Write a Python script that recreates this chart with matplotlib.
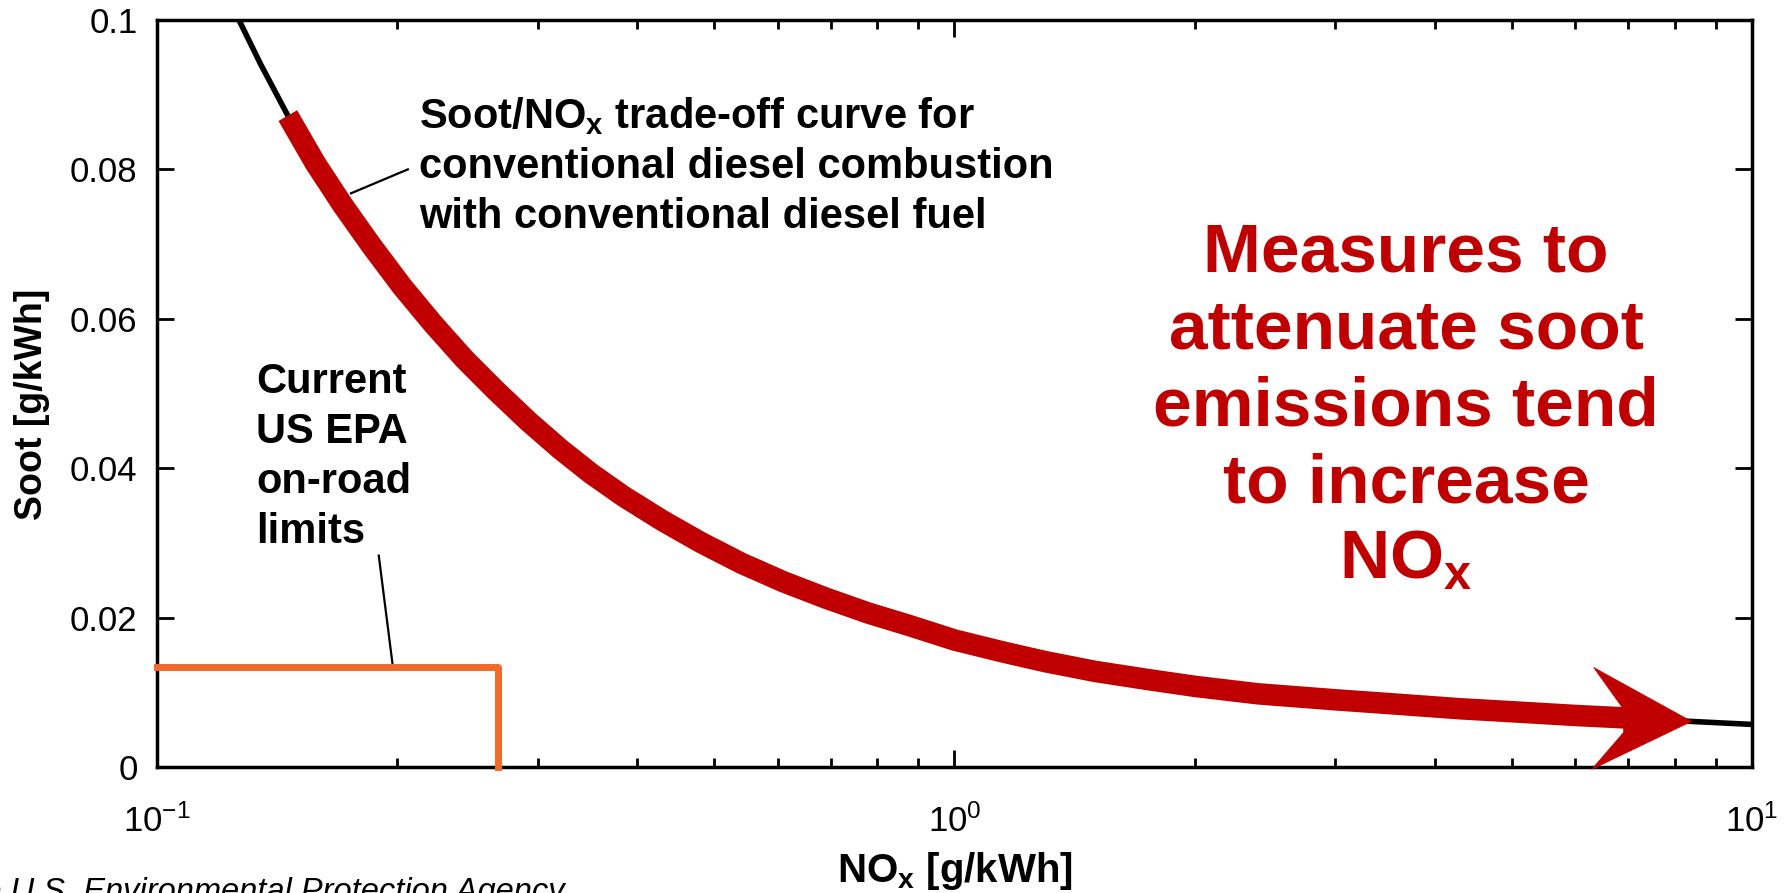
import matplotlib
matplotlib.use("Agg")
import matplotlib.pyplot as plt
import matplotlib.transforms as mtransforms
from matplotlib.patches import Polygon
from matplotlib.ticker import FixedLocator, FixedFormatter

# ---------------- data ----------------
nox = [0.1267, 0.135, 0.1459, 0.158, 0.171, 0.186, 0.203, 0.222, 0.243, 0.266,
       0.292, 0.32, 0.35, 0.385, 0.43, 0.48, 0.54, 0.61, 0.69, 0.78, 0.88,
       1.0, 1.15, 1.3, 1.5, 1.75, 2.0, 2.4, 3.0, 3.6, 4.3, 5.0, 6.0, 7.0,
       8.4, 10.0]
soot = [0.1000, 0.0940, 0.0872, 0.0808, 0.0752, 0.0697, 0.0643, 0.0593,
        0.0546, 0.0504, 0.0463, 0.0426, 0.0393, 0.0362, 0.0330, 0.0301,
        0.0273, 0.0248, 0.0226, 0.0206, 0.0189, 0.0170, 0.0154, 0.0141,
        0.0128, 0.0117, 0.0108, 0.0098, 0.0090, 0.0084, 0.0078, 0.0074,
        0.0069, 0.00655, 0.0061, 0.0057]
red_start = 0.1459          # start of the highlighted (red) part
red_end = 7.0               # end of red shaft (arrow head starts here)
arrow_tip = (8.4, 0.0061)   # tip of arrow head

epa_nox = [0.1, 0.268, 0.268]
epa_soot = [0.0134, 0.0134, 0.0]

yticks = [0, 0.02, 0.04, 0.06, 0.08, 0.1]
ytick_labels = ["0", "0.02", "0.04", "0.06", "0.08", "0.1"]

curve_label = ["Soot/NO$_\\mathdefault{x}$ trade-off curve for",
               "conventional diesel combustion",
               "with conventional diesel fuel"]
epa_label = ["Current", "US EPA", "on-road", "limits"]
red_label = ["Measures to", "attenuate soot", "emissions tend", "to increase",
             "NO$_\\mathdefault{x}$"]
source_text = "Courtesy of the U.S. Environmental Protection Agency"

# leader lines (data coords)
curve_leader = ([0.1751, 0.2063], [0.0768, 0.0800])
epa_leader = ([0.1897, 0.1976], [0.0283, 0.0134])

RED = "#C00000"
ORANGE = "#F26A2B"

# ---------------- figure ----------------
plt.rcParams['font.family'] = ['Liberation Sans', 'DejaVu Sans']
plt.rcParams['axes.unicode_minus'] = False
W, H = 1789, 893
fig = plt.figure(figsize=(W / 100, H / 100), dpi=100)
ax = fig.add_axes([157 / W, 1 - 767 / H, (1752 - 157) / W, (767 - 20) / H])

ax.set_xscale("log")
ax.set_xlim(0.1, 10)
ax.set_ylim(0, 0.1)

# black underlying curve
ax.plot(nox, soot, color="black", lw=4, solid_capstyle="butt",
        solid_joinstyle="round", zorder=3)
# red highlighted part
rx = [x for x in nox if red_start <= x <= red_end]
ry = [y for x, y in zip(nox, soot) if red_start <= x <= red_end]
ax.plot(rx, ry, color=RED, lw=15.5, solid_capstyle="butt",
        solid_joinstyle="round", zorder=4)

# arrow head (offsets in points, relative to the tip)
k = 0.72
head = [(0, 0), (-98 * k, 54 * k), (-68 * k, 12 * k), (-68 * k, -11 * k),
        (-100 * k, -48 * k)]
trans = mtransforms.Affine2D().scale(fig.dpi / 72.0) + \
    mtransforms.ScaledTranslation(arrow_tip[0], arrow_tip[1], ax.transData)
ax.add_patch(Polygon(head, closed=True, facecolor=RED, edgecolor=RED, lw=0.5,
                     transform=trans, clip_on=False, zorder=5))

# EPA limit
ax.plot(epa_nox, epa_soot, color=ORANGE, lw=5, zorder=3, clip_on=False)

# leader lines
ax.plot(*curve_leader, color="black", lw=1.6, zorder=2)
ax.plot(*epa_leader, color="black", lw=1.6, zorder=2)

# axes styling
for s in ax.spines.values():
    s.set_linewidth(2.5)
ax.yaxis.set_major_locator(FixedLocator(yticks))
ax.yaxis.set_major_formatter(FixedFormatter(ytick_labels))
ax.tick_params(which="both", direction="in", top=True, right=True, width=2)
ax.tick_params(which="major", length=12, labelsize=25)
ax.tick_params(which="minor", length=6.5)
ax.tick_params(axis="x", which="major", pad=27)
ax.tick_params(axis="y", which="major", pad=14)

ax.set_xlabel("NO$_\\mathdefault{x}$ [g/kWh]", fontsize=29, fontweight="bold")
ax.set_ylabel("Soot [g/kWh]", fontsize=27, fontweight="bold")
ax.xaxis.set_label_coords(0.5, -(850 - 767) / 747)
ax.xaxis.label.set_va("top")
ax.yaxis.set_label_coords(-(157 - 50) / 1595, 0.485)


def block(lines, x_px, y0_px, step_px, **kw):
    for i, line in enumerate(lines):
        fig.text(x_px / W, 1 - (y0_px + i * step_px) / H, line,
                 va="baseline", **kw)


block(curve_label, 419, 128, 50, ha="left", fontsize=30, fontweight="bold")
block(epa_label, 256, 393, 50, ha="left", fontsize=30, fontweight="bold")
block(red_label, 1406, 272, 76.75, ha="center", fontsize=50,
      fontweight="bold", color=RED)

fig.text(565 / W, 1 - 901 / H, source_text, ha="right", va="baseline",
         fontsize=23.5, fontstyle="italic")

fig.savefig("out.png", dpi=100)
